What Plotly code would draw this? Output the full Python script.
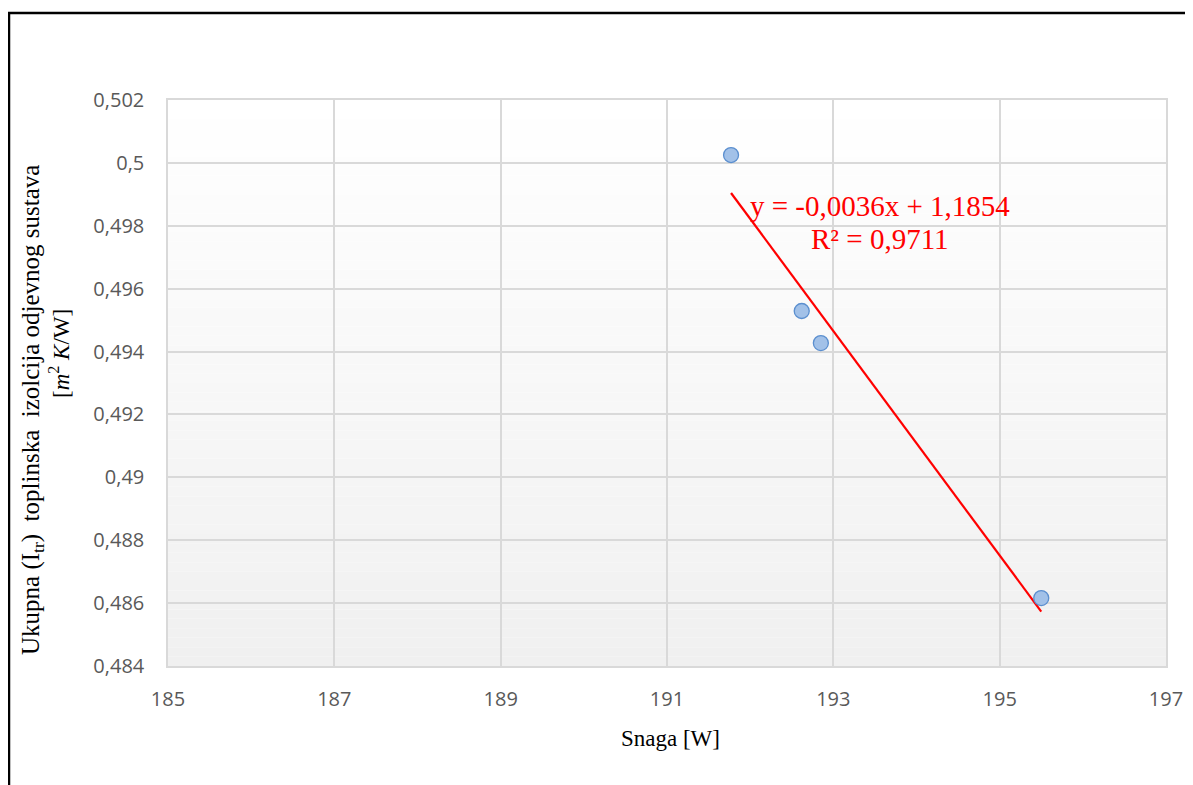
import numpy as np
import plotly.graph_objects as go

# Data
snaga = [191.77, 192.62, 192.85, 195.50]
izolacija = [0.50025, 0.49529, 0.49427, 0.48616]

x_ticks = [185, 187, 189, 191, 193, 195, 197]
x_tick_labels = ["185", "187", "189", "191", "193", "195", "197"]
y_ticks = [0.484, 0.486, 0.488, 0.490, 0.492, 0.494, 0.496, 0.498, 0.500, 0.502]
y_tick_labels = ["0,484", "0,486", "0,488", "0,49", "0,492", "0,494", "0,496", "0,498", "0,5", "0,502"]

eq_text = "y = -0,0036x + 1,1854"
r2_text = "R² = 0,9711"

# Linear trendline (least squares of the data)
slope, intercept = np.polyfit(snaga, izolacija, 1)
tx = [min(snaga), max(snaga)]
ty = [slope * v + intercept for v in tx]

fig = go.Figure()
fig.add_trace(go.Scatter(x=tx, y=ty, mode="lines",
                         line=dict(color="#FF0000", width=2.2), hoverinfo="skip",
                         showlegend=False))
fig.add_trace(go.Scatter(x=snaga, y=izolacija, mode="markers",
                         marker=dict(size=15, color="#A2C1E8",
                                     line=dict(color="#5B8FCF", width=1.3)),
                         showlegend=False))

W, H = 1193, 785
OFF = 8  # page body offset
L, R, T, B = 160, 35, 92, 127
pw, ph = W - L - R, H - T - B

def px_x(sx):
    return (sx - OFF - L) / pw

def px_y(sy):
    return (H - B - (sy - OFF)) / ph

shapes = []
# gradient background of the plot area
n = 60
for i in range(n):
    f = i / (n - 1)
    c = int(round(255 - (255 - 240) * f))
    shapes.append(dict(type="rect", xref="paper", yref="paper",
                       x0=0, x1=1, y0=1 - (i + 1) / n, y1=1 - i / n,
                       fillcolor=f"rgb({c},{c},{c})", line=dict(width=0),
                       layer="below"))
# outer black frame (extends past right/bottom edges)
shapes.append(dict(type="rect", xref="paper", yref="paper",
                   x0=px_x(9), x1=px_x(1230), y0=px_y(820), y1=px_y(13),
                   line=dict(color="black", width=2.5), fillcolor="rgba(0,0,0,0)",
                   layer="above"))

annotations = [
    dict(xref="paper", yref="paper", x=px_x(32), y=px_y(410),
         text="Ukupna (I<sub>tr</sub>)  toplinska  izolcija odjevnog sustava",
         textangle=-90, showarrow=False, xanchor="center", yanchor="middle",
         font=dict(family="Liberation Serif", size=25, color="black")),
    dict(xref="paper", yref="paper", x=px_x(59), y=px_y(354),
         text="[<i>m</i><sup>2</sup> <i>K</i>/W]",
         textangle=-90, showarrow=False, xanchor="center", yanchor="middle",
         font=dict(family="Liberation Serif", size=23, color="black")),
    dict(xref="paper", yref="paper", x=px_x(670), y=px_y(738),
         text="Snaga [W]", showarrow=False, xanchor="center", yanchor="middle",
         font=dict(family="Liberation Serif", size=23, color="black")),
    dict(xref="paper", yref="paper", x=px_x(880), y=px_y(206),
         text=eq_text, showarrow=False, xanchor="center", yanchor="middle",
         font=dict(family="Liberation Serif", size=29, color="#FF0000")),
    dict(xref="paper", yref="paper", x=px_x(880), y=px_y(239),
         text=r2_text, showarrow=False, xanchor="center", yanchor="middle",
         font=dict(family="Liberation Serif", size=29, color="#FF0000")),
]

fig.update_layout(
    width=W, height=H,
    margin=dict(l=L, r=R, t=T, b=B),
    paper_bgcolor="white",
    plot_bgcolor="rgba(0,0,0,0)",
    shapes=shapes,
    annotations=annotations,
    xaxis=dict(range=[185, 197], tickvals=x_ticks, ticktext=x_tick_labels,
               showgrid=True, gridcolor="#D9D9D9", gridwidth=1.5,
               showline=True, linecolor="#D9D9D9", linewidth=1.5, mirror=True,
               zeroline=False, ticks="", ticklabelstandoff=14,
               tickfont=dict(family="Open Sans", size=20, color="#595959")),
    yaxis=dict(range=[0.484, 0.502], tickvals=y_ticks, ticktext=y_tick_labels,
               showgrid=True, gridcolor="#D9D9D9", gridwidth=1.5,
               showline=True, linecolor="#D9D9D9", linewidth=1.5, mirror=True,
               zeroline=False, ticks="", ticklabelstandoff=18,
               tickfont=dict(family="Open Sans", size=20, color="#595959")),
)

fig.write_html("out.html")
